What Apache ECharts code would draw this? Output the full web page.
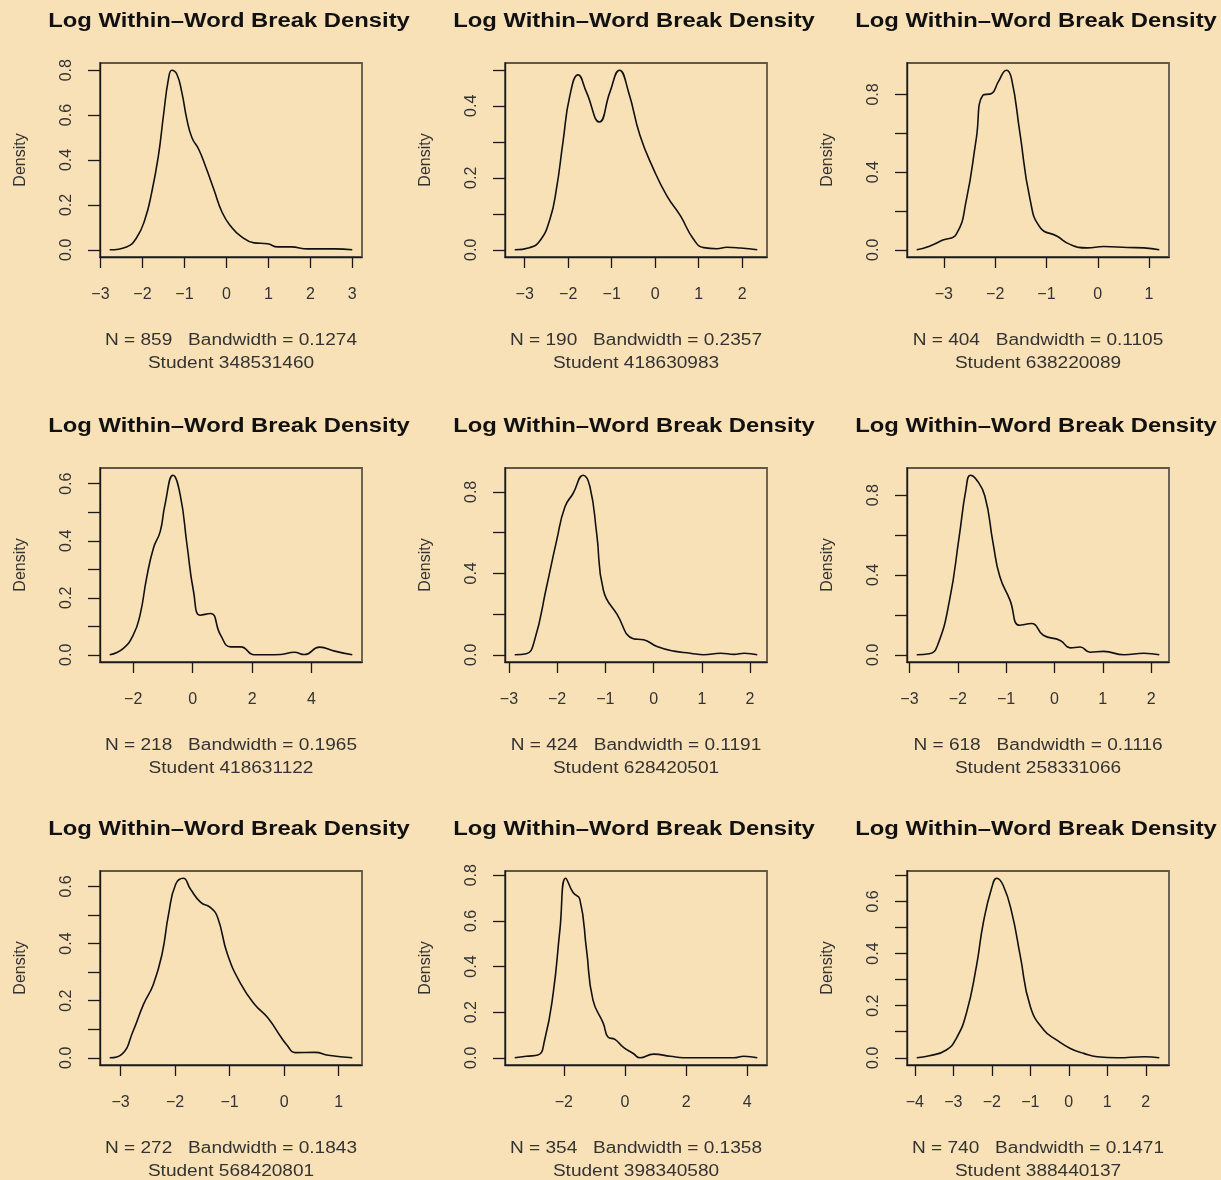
<!DOCTYPE html>
<html>
<head>
<meta charset="utf-8">
<title>Log Within-Word Break Density</title>
<script src="https://cdn.jsdelivr.net/npm/echarts@6/dist/echarts.min.js"></script>
<style>
  html, body { margin: 0; padding: 0; background: #F9E1B7; }
  #chart { width: 1221px; height: 1180px; }
</style>
</head>
<body>
<div id="chart"></div>
<script>
// one density plot per student
const students = ['348531460', '418630983', '638220089', '418631122', '628420501', '258331066', '568420801', '398340580', '388440137'];
const sampleN = [859, 190, 404, 218, 424, 618, 272, 354, 740];
const bandwidths = ['0.1274', '0.2357', '0.1105', '0.1965', '0.1191', '0.1116', '0.1843', '0.1358', '0.1471'];

const x1 = [-2.78, -2.38, -2.14, -1.94, -1.78, -1.62, -1.50, -1.38, -1.30, -1.18, -1.06, -0.94, -0.82, -0.66, -0.50, -0.30, -0.10, 0.10, 0.34, 0.66, 0.98, 1.22, 1.54, 1.94, 2.58, 3.00];
const y1 = [0, 0.013, 0.054, 0.136, 0.255, 0.418, 0.597, 0.761, 0.800, 0.782, 0.700, 0.580, 0.499, 0.448, 0.373, 0.270, 0.166, 0.106, 0.061, 0.031, 0.027, 0.013, 0.013, 0.004, 0.004, 0];

const x2 = [-3.23, -2.89, -2.65, -2.42, -2.27, -2.12, -1.96, -1.77, -1.58, -1.28, -1.04, -0.82, -0.61, -0.35, -0.04, 0.27, 0.58, 0.88, 1.12, 1.42, 1.65, 1.96, 2.35];
const y2 = [0, 0.006, 0.025, 0.085, 0.169, 0.299, 0.429, 0.486, 0.438, 0.355, 0.438, 0.499, 0.438, 0.318, 0.225, 0.150, 0.095, 0.030, 0.006, 0.003, 0.007, 0.005, 0];

const x3 = [-3.53, -3.28, -3.02, -2.76, -2.56, -2.37, -2.24, -2.07, -1.94, -1.78, -1.68, -1.52, -1.32, -1.12, -0.80, -0.54, -0.21, 0.12, 0.58, 0.90, 1.20];
const y3 = [0, 0.019, 0.050, 0.080, 0.260, 0.570, 0.796, 0.805, 0.865, 0.925, 0.880, 0.606, 0.260, 0.114, 0.071, 0.028, 0.010, 0.017, 0.012, 0.010, 0];

const x4 = [-2.79, -2.34, -2.00, -1.77, -1.55, -1.32, -1.09, -0.93, -0.66, -0.42, -0.19, 0.03, 0.26, 0.60, 0.94, 1.28, 1.62, 2.07, 2.52, 2.97, 3.42, 3.76, 4.27, 4.78, 5.37];
const y4 = [0, 0.022, 0.069, 0.139, 0.269, 0.374, 0.433, 0.527, 0.630, 0.562, 0.386, 0.222, 0.139, 0.145, 0.069, 0.028, 0.028, 0, 0, 0.001, 0.009, 0.001, 0.027, 0.013, 0];

const x5 = [-2.88, -2.64, -2.47, -2.22, -2.01, -1.84, -1.67, -1.46, -1.32, -1.18, -1.04, -0.76, -0.42, -0.21, 0.07, 0.42, 0.76, 1.04, 1.39, 1.67, 1.88, 2.15];
const y5 = [0, 0.005, 0.070, 0.333, 0.562, 0.726, 0.792, 0.882, 0.825, 0.595, 0.316, 0.200, 0.079, 0.074, 0.041, 0.018, 0.008, 0, 0.008, 0.002, 0.008, 0];

const x6 = [-2.85, -2.59, -2.42, -2.17, -1.97, -1.83, -1.74, -1.62, -1.44, -1.27, -1.13, -0.92, -0.72, -0.47, -0.23, 0.12, 0.33, 0.53, 0.74, 1.02, 1.44, 1.85, 2.17];
const y6 = [0, 0.005, 0.047, 0.274, 0.594, 0.830, 0.900, 0.880, 0.796, 0.560, 0.392, 0.274, 0.148, 0.157, 0.098, 0.072, 0.035, 0.039, 0.013, 0.017, 0, 0.008, 0];

const x7 = [-3.20, -2.98, -2.77, -2.58, -2.40, -2.24, -2.12, -1.99, -1.85, -1.72, -1.53, -1.35, -1.22, -1.04, -0.79, -0.54, -0.30, -0.05, 0.05, 0.20, 0.57, 0.81, 1.25];
const y7 = [0, 0.012, 0.094, 0.187, 0.257, 0.363, 0.503, 0.608, 0.629, 0.591, 0.544, 0.526, 0.491, 0.363, 0.257, 0.187, 0.140, 0.070, 0.045, 0.018, 0.019, 0.009, 0];

const x8 = [-3.61, -3.23, -2.85, -2.63, -2.35, -2.13, -1.94, -1.70, -1.48, -1.26, -1.05, -0.71, -0.55, -0.33, -0.05, 0.27, 0.49, 0.93, 1.48, 1.92, 2.68, 3.56, 3.89, 4.33];
const y8 = [0, 0.007, 0.012, 0.078, 0.283, 0.562, 0.787, 0.724, 0.695, 0.474, 0.254, 0.151, 0.090, 0.081, 0.046, 0.019, 0, 0.016, 0.007, 0, 0, 0, 0.007, 0];

const x9 = [-3.95, -3.62, -3.18, -2.92, -2.66, -2.40, -2.22, -2.00, -1.87, -1.70, -1.48, -1.26, -1.00, -0.65, -0.31, 0.04, 0.39, 0.74, 1.26, 1.96, 2.35];
const y9 = [0, 0.008, 0.030, 0.075, 0.171, 0.351, 0.518, 0.653, 0.689, 0.660, 0.557, 0.390, 0.197, 0.107, 0.068, 0.036, 0.017, 0.004, 0, 0.004, 0];

const xs = [x1, x2, x3, x4, x5, x6, x7, x8, x9];
const ys = [y1, y2, y3, y4, y5, y6, y7, y8, y9];

// tick positions (R pretty()) and the labels R kept after dropping overlaps
const xTicks = [
  [-3, -2, -1, 0, 1, 2, 3], [-3, -2, -1, 0, 1, 2], [-3, -2, -1, 0, 1],
  [-2, 0, 2, 4], [-3, -2, -1, 0, 1, 2], [-3, -2, -1, 0, 1, 2],
  [-3, -2, -1, 0, 1], [-2, 0, 2, 4], [-4, -3, -2, -1, 0, 1, 2]
];
const yTicks = [
  [0, 0.2, 0.4, 0.6, 0.8], [0, 0.1, 0.2, 0.3, 0.4, 0.5], [0, 0.2, 0.4, 0.6, 0.8],
  [0, 0.1, 0.2, 0.3, 0.4, 0.5, 0.6], [0, 0.2, 0.4, 0.6, 0.8], [0, 0.2, 0.4, 0.6, 0.8],
  [0, 0.1, 0.2, 0.3, 0.4, 0.5, 0.6], [0, 0.2, 0.4, 0.6, 0.8], [0, 0.1, 0.2, 0.3, 0.4, 0.5, 0.6, 0.7]
];
const yLabels = [
  [0, 0.2, 0.4, 0.6, 0.8], [0, 0.2, 0.4], [0, 0.4, 0.8],
  [0, 0.2, 0.4, 0.6], [0, 0.4, 0.8], [0, 0.4, 0.8],
  [0, 0.2, 0.4, 0.6], [0, 0.2, 0.4, 0.6, 0.8], [0, 0.2, 0.4, 0.6]
];

const mainTitle = 'Log Within\u2013Word Break Density';

// page layout of the plot boxes
const colLeft = [100, 505, 907];
const rowTop = [63, 468, 871];
const boxW = 262;
const boxH = 194;
const FONT = '"Liberation Sans", Arial, Helvetica, sans-serif';
const STRETCH = 1.19; // the reference is stretched sideways

const minus = v => (v < 0 ? '\u2212' + Math.abs(v) : String(v));

const grids = [], xAxes = [], yAxes = [], series = [], texts = [];

xs.forEach((xv, i) => {
  const left = colLeft[i % 3];
  const top = rowTop[Math.floor(i / 3)];
  const yv = ys[i];
  // R extends the data range by 4% each side
  const xmin = Math.min(...xv), xmax = Math.max(...xv);
  const ymin = Math.min(...yv), ymax = Math.max(...yv);
  const dx = (xmax - xmin) * 0.04, dy = (ymax - ymin) * 0.04;

  grids.push({
    left: left, top: top, width: boxW, height: boxH,
    show: true, borderColor: '#5f574a', borderWidth: 1.8,
    backgroundColor: 'transparent'
  });
  xAxes.push({
    type: 'value', gridIndex: i, min: xmin - dx, max: xmax + dx,
    axisLine: { show: true, onZero: false, lineStyle: { color: '#1a1a1a', width: 1.4 } },
    axisTick: { show: true, inside: false, length: 11, customValues: xTicks[i],
      lineStyle: { color: '#1a1a1a', width: 1.3 } },
    axisLabel: { customValues: xTicks[i], formatter: minus, margin: 30,
      color: '#333', fontSize: 16, fontFamily: FONT },
    splitLine: { show: false }
  });
  yAxes.push({
    type: 'value', gridIndex: i, min: ymin - dy, max: ymax + dy,
    name: 'Density', nameLocation: 'middle', nameGap: 71,
    nameTextStyle: { color: '#333', fontSize: 16, fontFamily: FONT },
    axisLine: { show: true, onZero: false, lineStyle: { color: '#1a1a1a', width: 1.4 } },
    axisTick: { show: true, inside: false, length: 12, customValues: yTicks[i],
      lineStyle: { color: '#1a1a1a', width: 1.3 } },
    axisLabel: { customValues: yLabels[i], rotate: 90, margin: 25,
      formatter: v => v.toFixed(1), color: '#333', fontSize: 16, fontFamily: FONT },
    splitLine: { show: false }
  });
  series.push({
    type: 'line', xAxisIndex: i, yAxisIndex: i,
    data: xv.map((x, k) => [x, yv[k]]),
    showSymbol: false, smooth: 0.5,
    lineStyle: { color: '#111', width: 1.6 },
    silent: true
  });

  const cx = left + boxW / 2;
  texts.push(
    { type: 'text', x: cx - 2, y: top - 42, scaleX: STRETCH, silent: true,
      style: { text: mainTitle, font: 'bold 20px ' + FONT, fill: '#111',
        align: 'center', verticalAlign: 'middle' } },
    { type: 'text', x: cx, y: top + boxH + 84, scaleX: STRETCH, silent: true,
      style: { text: 'N = ' + sampleN[i] + '   Bandwidth = ' + bandwidths[i],
        font: '16px ' + FONT, fill: '#333', align: 'center', verticalAlign: 'middle' } },
    { type: 'text', x: cx, y: top + boxH + 107, scaleX: STRETCH, silent: true,
      style: { text: 'Student ' + students[i],
        font: '16px ' + FONT, fill: '#333', align: 'center', verticalAlign: 'middle' } }
  );
});

const chart = echarts.init(document.getElementById('chart'));
chart.setOption({
  animation: false,
  backgroundColor: '#F9E1B7',
  grid: grids,
  xAxis: xAxes,
  yAxis: yAxes,
  series: series,
  graphic: texts
});
</script>
</body>
</html>
